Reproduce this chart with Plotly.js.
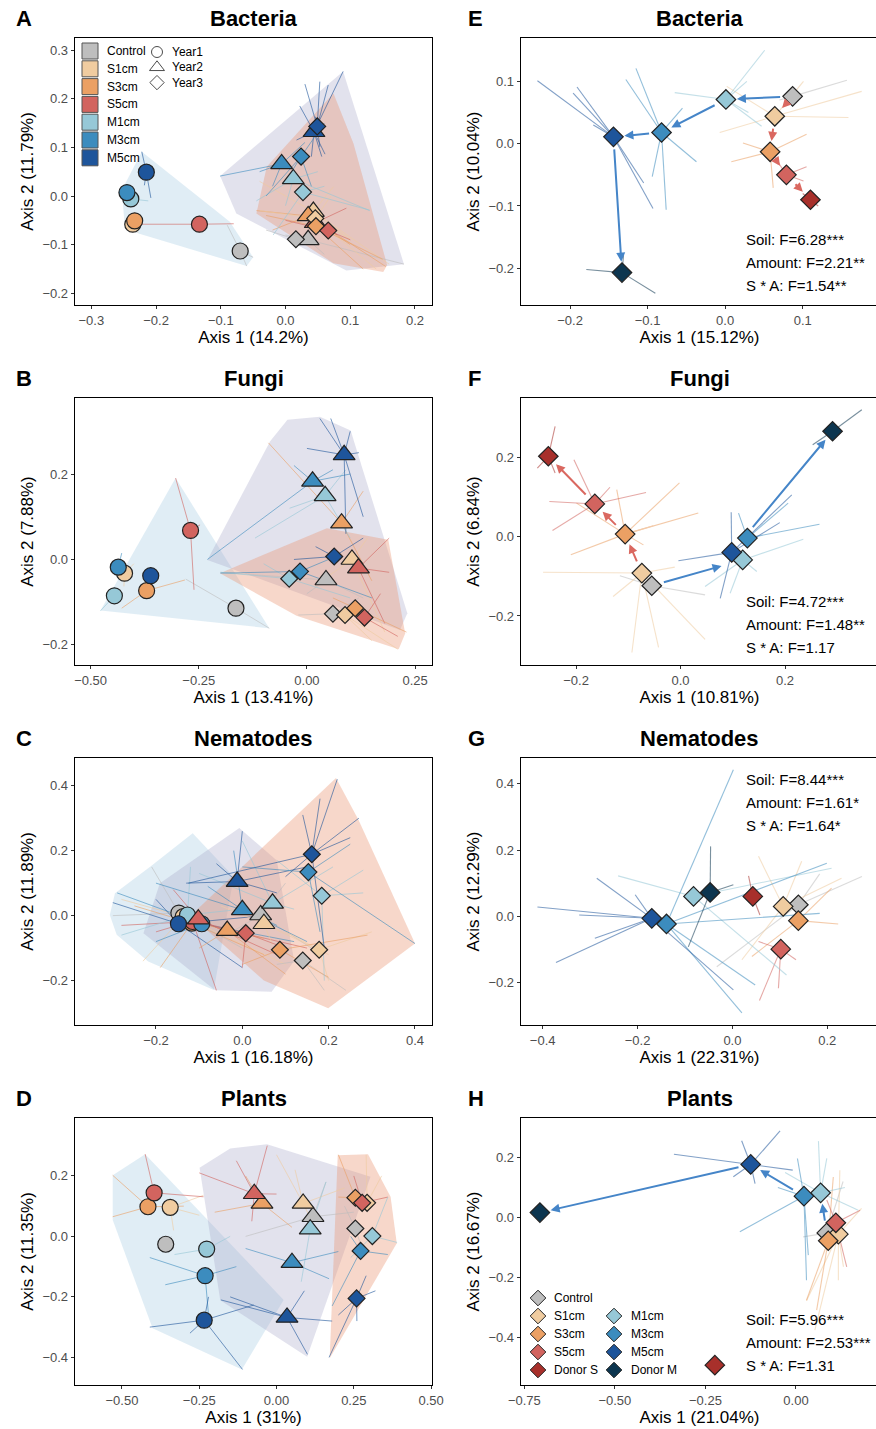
<!DOCTYPE html>
<html><head><meta charset="utf-8">
<script src="https://cdn.plot.ly/plotly-3.0.1.min.js"></script>
<style>html,body{margin:0;padding:0;overflow:hidden;background:#fff}#chart{width:880px;height:1429px}</style>
</head><body><div id="chart"></div>
<script>
// ---------------- categories ----------------
const groups = ['Control','S1cm','S3cm','S5cm','M1cm','M3cm','M5cm','Donor S','Donor M'];
const years = ['Year1','Year2','Year3'];

// ---------------- left panels: centroids (order: Year1 Control..M5cm, Year2 ..., Year3 ...) ----------------
const bacteriaL_x = [-0.070,-0.236,-0.233,-0.133,-0.239,-0.245,-0.215, 0.035,0.043,0.035,0.046,0.012,-0.006,0.044, 0.016,0.046,0.047,0.066,0.027,0.024,0.049];
const bacteriaL_y = [-0.113,-0.058,-0.051,-0.058,-0.006,0.007,0.049, -0.090,-0.032,-0.041,-0.055,0.035,0.066,0.132, -0.089,-0.046,-0.062,-0.071,0.008,0.081,0.143];
const bacteriaL_spokes = [
 [-0.090,-0.060,-0.060,-0.144,-0.050,-0.126],[-0.228,-0.075,-0.248,-0.066],[-0.240,-0.062,-0.222,-0.045],
 [-0.228,-0.058,-0.080,-0.057,-0.120,-0.061],[-0.212,-0.010,-0.250,-0.012],[-0.253,0.012,-0.232,-0.004],
 [-0.222,0.091,-0.208,-0.004,-0.218,0.022],
 [0.183,-0.140,0.000,-0.080,0.060,-0.120],[-0.040,0.030,0.074,0.019,0.160,-0.140,0.100,-0.090],
 [-0.045,-0.030,0.155,-0.145,0.100,-0.100,-0.020,-0.070],[0.094,-0.025,0.080,-0.080],
 [-0.045,-0.010,0.050,0.050,0.000,-0.020,0.130,-0.030],[-0.101,0.041,-0.040,0.050,0.030,0.110,-0.020,0.020],
 [0.089,0.256,0.022,0.185,0.056,0.081,0.040,0.081,0.017,0.115,0.061,0.086],
 [-0.030,-0.070,0.050,-0.100],[-0.040,-0.030,0.100,-0.090,0.070,0.000,0.140,-0.150],[0.150,-0.130,-0.030,-0.040,0.120,-0.150],
 [0.100,-0.090,0.000,-0.050],[0.130,-0.029,-0.019,-0.080,0.060,0.020],[0.060,0.150,0.000,0.030,0.040,0.020,-0.030,0.000],
 [0.066,0.228,0.053,0.235,0.046,0.163,0.053,0.101,0.030,0.230]];
const bacteriaL_hullX = [[-0.222,-0.253,-0.248,-0.227,-0.060,-0.050,-0.086],[-0.101,0.069,0.089,0.183,0.094,-0.076],[-0.045,-0.029,0.074,0.105,0.157,0.151,0.074]];
const bacteriaL_hullY = [[0.091,0.012,-0.066,-0.077,-0.144,-0.126,-0.053],[0.041,0.235,0.256,-0.140,-0.153,-0.036],[-0.036,0.060,0.211,0.108,-0.142,-0.156,-0.138]];

const fungiL_x = [-0.164,-0.4215,-0.3705,-0.269,-0.445,-0.436,-0.361, 0.044,0.104,0.080,0.119,0.042,0.013,0.086, 0.060,0.088,0.1115,0.133,-0.041,-0.016,0.063];
const fungiL_y = [-0.114,-0.032,-0.073,0.068,-0.085,-0.018,-0.038, -0.048,0.000,0.085,-0.020,0.149,0.183,0.245, -0.127,-0.130,-0.114,-0.136,-0.045,-0.028,0.007];
const fungiL_spokes = [
 [-0.280,-0.046,-0.087,-0.161],[-0.423,-0.063,-0.400,-0.010],[-0.282,-0.048,-0.428,-0.114],
 [-0.3035,0.1906,-0.261,-0.071,-0.247,0.081],[-0.477,-0.120],[-0.428,0.015],[-0.350,-0.030],
 [-0.200,-0.030,0.130,-0.090,0.000,-0.080],[0.140,0.050,0.020,-0.060,0.180,-0.170],[-0.089,0.273,0.130,0.160,0.150,-0.050],
 [0.190,0.050,0.190,-0.030,0.180,-0.150],[-0.040,0.120,0.090,0.210,0.100,0.050,-0.120,0.050],
 [-0.230,0.000,-0.030,0.220,0.060,0.210,0.100,0.200],
 [0.030,0.330,0.055,0.330,0.100,0.300,0.120,0.250,0.130,0.100,0.090,0.060,0.000,0.260],
 [-0.020,-0.130,0.120,-0.090],[0.210,-0.210,0.150,-0.190],[0.230,-0.170,0.060,-0.090],[0.210,-0.180,0.170,-0.080],
 [-0.100,-0.010,0.100,-0.090,-0.200,-0.030],[-0.200,-0.032,0.150,-0.090,0.050,0.000],[-0.030,0.000,0.130,0.050,0.020,0.030]];
const fungiL_hullX = [[-0.477,-0.3035,-0.087],[-0.230,-0.085,-0.045,0.030,0.101,0.232,0.215],[-0.201,0.046,0.188,0.227,0.212,-0.024]];
const fungiL_hullY = [[-0.1195,0.1906,-0.161],[-0.001,0.277,0.327,0.334,0.302,-0.126,-0.165],[-0.032,0.073,0.046,-0.173,-0.210,-0.132]];

const nemaL_x = [-0.147,-0.137,-0.117,-0.115,-0.127,-0.094,-0.148, 0.0425,0.050,-0.035,-0.102,0.070,0.000,-0.012, 0.140,0.178,0.087,0.008,0.184,0.153,0.161];
const nemaL_y = [0.008,-0.003,-0.023,-0.018,0.002,-0.025,-0.025, 0.002,-0.025,-0.046,-0.011,0.038,0.018,0.105, -0.138,-0.105,-0.105,-0.054,0.061,0.134,0.189];
const nemaL_spokes = [
 [-0.300,0.000,0.000,-0.100,-0.210,0.150],[-0.230,-0.140,0.100,-0.150,-0.280,0.050],[-0.190,-0.160,0.050,-0.120,-0.250,0.030],
 [-0.060,-0.230,0.150,-0.100,-0.280,-0.030],[-0.280,-0.060,0.000,0.020,-0.120,0.150],[-0.290,0.070,0.120,-0.080,-0.200,-0.080],
 [-0.300,0.040,0.000,-0.160,-0.200,0.050,0.050,0.000],
 [0.160,-0.100,-0.050,-0.070,0.100,0.100],[0.200,-0.120,0.070,-0.090,-0.050,0.030],[-0.100,-0.100,0.100,-0.180,0.050,-0.070,-0.160,0.000],
 [0.080,-0.120,-0.200,-0.050,-0.020,-0.060,-0.160,0.080],[0.000,0.230,0.210,0.150,0.120,0.020,-0.100,0.130],
 [-0.200,0.100,-0.080,0.090,0.080,-0.030,0.150,-0.080,-0.020,0.200],[-0.130,0.100,-0.060,0.160,0.150,0.150,0.000,0.260,0.080,0.070],
 [0.190,-0.230,0.240,-0.230,0.080,-0.150],[0.300,-0.050,0.200,-0.200,0.100,-0.050],[0.200,-0.190,0.000,-0.150,0.290,-0.060],
 [-0.100,-0.020,0.100,-0.100,0.000,-0.160],[0.280,0.140,0.280,0.070,0.190,-0.200,0.080,0.170],
 [0.400,-0.086,0.250,0.220,0.000,0.150,0.180,-0.050],
 [0.220,0.420,0.180,0.360,0.270,0.300,0.250,0.240,0.140,0.310,-0.125,0.100,0.100,0.120,0.190,-0.100]];
const nemaL_hullX = [[-0.295,-0.212,-0.115,-0.020,-0.066,-0.218,-0.291,-0.307],[-0.229,-0.191,-0.007,0.080,0.120,0.068,-0.063],[-0.120,0.217,0.269,0.400,0.199,0.050]];
const nemaL_hullY = [[0.069,0.152,0.254,0.120,-0.229,-0.141,-0.059,0.002],[-0.054,0.100,0.270,0.170,-0.140,-0.234,-0.230],[0.000,0.424,0.295,-0.086,-0.285,-0.200]];

const plantsL_x = [-0.3585,-0.344,-0.416,-0.396,-0.226,-0.231,-0.234, 0.118,0.086,-0.047,-0.072,0.109,0.050,0.034, 0.255,0.293,0.255,0.277,0.310,0.272,0.259];
const plantsL_y = [-0.026,0.096,0.098,0.144,-0.042,-0.130,-0.277, 0.065,0.109,0.109,0.141,0.024,-0.087,-0.268, 0.026,0.111,0.128,0.111,0.001,-0.048,-0.205];
const plantsL_spokes = [
 [-0.370,-0.040,-0.340,0.000],[-0.236,0.136,-0.333,0.020,-0.250,0.070],[-0.530,0.202,-0.530,0.065,-0.300,0.100],
 [-0.425,0.272,-0.236,0.131,-0.420,0.080],[-0.330,-0.060,-0.150,0.000],[-0.410,-0.070,-0.360,-0.160,-0.130,-0.100,-0.220,-0.260],
 [-0.410,-0.300,-0.110,-0.440,-0.074,-0.227,-0.280,-0.320,-0.220,-0.200],
 [0.160,0.180,0.250,0.080,-0.100,0.000],[0.000,0.270,0.060,0.220,0.220,0.160,0.110,0.060],[-0.200,0.080,-0.100,0.200,0.050,0.030],
 [-0.130,0.250,-0.030,0.300,-0.250,0.210,0.000,0.140,-0.080,0.050],[0.160,0.180,0.080,-0.150],[-0.100,-0.040,0.170,-0.140,0.200,-0.050],
 [-0.180,-0.210,0.100,-0.390,0.180,-0.280,0.090,-0.180,-0.150,-0.200],
 [0.220,0.100,0.280,-0.050],[0.290,0.270,0.340,0.200],[0.200,0.270,0.200,0.130],[0.360,0.130,0.250,0.200],
 [0.360,0.130,0.390,-0.020,0.240,-0.070],[0.180,-0.230,0.360,-0.060,0.240,0.000],[0.170,-0.400,0.200,-0.260,0.290,-0.130,0.320,-0.180,0.260,-0.280]];
const plantsL_hullX = [[-0.530,-0.425,0.023,-0.112,-0.401,-0.530],[-0.249,-0.150,-0.031,0.304,0.099,-0.182],[0.198,0.296,0.369,0.389,0.172]];
const plantsL_hullY = [[0.202,0.272,-0.210,-0.440,-0.304,0.054],[0.227,0.291,0.305,0.197,-0.398,-0.211],[0.268,0.272,0.131,-0.023,-0.403]];

// ---------------- right panels: centroids (order: Control,S1,S3,S5,M1,M3,M5,Donor S,Donor M) ----------------
const bacteriaR_x = [0.087,0.064,0.058,0.079,0.001,-0.082,-0.144,0.110,-0.133];
const bacteriaR_y = [0.076,0.044,-0.013,-0.050,0.071,0.018,0.011,-0.090,-0.207];
const bacteriaR_spokes = [
 [0.157,0.102,0.070,0.070],[0.176,0.084,0.159,0.042,-0.007,0.018,0.002,0.092,0.101,0.100],
 [0.023,0.001,0.105,0.015,0.008,-0.029,0.062,-0.071],[0.054,-0.003,0.105,-0.037,0.101,-0.060],
 [0.051,0.150,0.028,0.100,-0.065,0.082,0.047,0.028,0.030,0.050],
 [-0.115,0.121,-0.128,0.103,-0.076,-0.106,-0.094,-0.053,-0.037,-0.029,-0.055,0.057],
 [-0.242,0.101,-0.191,0.091,-0.196,0.081,-0.093,-0.104,-0.105,-0.063,-0.170,0.030],
 [0.100,-0.080,0.120,-0.100],[-0.179,-0.202,-0.090,-0.240,-0.131,-0.179]];
const bacteriaR_arrowsBlue = [[0,4],[4,5],[5,6],[6,8]];
const bacteriaR_arrowsRed = [[0,1],[1,2],[2,3],[3,7]];
const bacteriaR_stats = ['Soil: F=6.28***','Amount: F=2.21**','S * A: F=1.54**'];

const fungiR_x = [-0.055,-0.074,-0.106,-0.164,0.119,0.128,0.098,-0.253,0.291];
const fungiR_y = [-0.124,-0.092,0.006,0.082,-0.059,-0.004,-0.040,0.202,0.265];
const fungiR_spokes = [
 [0.047,-0.147,-0.116,-0.099],[-0.263,-0.090,-0.093,-0.292,-0.042,-0.279,0.047,-0.259,-0.129,-0.151,-0.011,-0.077],
 [-0.002,0.135,0.034,0.059,-0.210,-0.046,-0.122,0.118,-0.052,0.027,-0.071,-0.021,-0.199,0.084],
 [-0.204,0.193,-0.251,0.088,-0.245,0.015,-0.066,0.111,-0.135,0.124],
 [0.047,-0.126,0.235,-0.007,0.095,-0.143,0.146,-0.088],[0.266,0.031,0.111,0.059,0.206,0.084],
 [-0.004,-0.061,0.076,-0.156,0.097,0.061,0.213,0.105,0.190,0.035],
 [-0.240,0.277,-0.274,0.172,-0.240,0.160],[0.347,0.319,0.253,0.231]];
const fungiR_arrowsBlue = [[0,4],[6,8]];
const fungiR_arrowsRed = [[1,2],[2,3],[3,7]];
const fungiR_stats = ['Soil: F=4.72***','Amount: F=1.48**','S * A: F=1.17'];

const nemaR_x = [0.139,0.107,0.139,0.102,-0.082,-0.139,-0.170,0.043,-0.047];
const nemaR_y = [0.035,0.030,-0.013,-0.099,0.060,-0.023,-0.006,0.060,0.072];
const nemaR_spokes = [
 [0.273,0.120,0.184,0.128,-0.033,-0.152],[0.055,0.181,0.230,0.115,0.020,-0.131,0.146,0.166],
 [0.223,-0.023,0.209,0.085,0.041,-0.121],[0.057,-0.254,0.097,-0.217,0.134,-0.131,0.055,-0.076],
 [-0.241,0.122,0.209,0.145,0.114,-0.177],[0.020,-0.291,0.048,-0.207,0.199,0.160,0.184,0.009,0.002,0.442],
 [-0.411,0.028,-0.286,0.115,-0.323,0.004,-0.372,-0.139,-0.290,-0.066,0.002,-0.222,-0.205,0.065],
 [0.034,0.122,0.058,0.004],[-0.046,0.211,-0.093,-0.092,0.002,0.095]];
const nemaR_arrowsBlue = [];
const nemaR_arrowsRed = [];
const nemaR_stats = ['Soil: F=8.44***','Amount: F=1.61*','S * A: F=1.64*'];

const plantsR_x = [0.085,0.117,0.089,0.110,0.068,0.022,-0.125,-0.224,-0.707];
const plantsR_y = [-0.052,-0.056,-0.078,-0.018,0.082,0.071,0.177,-0.494,0.016];
const plantsR_spokes = [
 [0.020,-0.065,0.130,0.120],[0.029,-0.279,0.052,-0.377,0.117,-0.210,0.131,-0.165,0.121,0.158,0.181,0.030],
 [0.029,-0.277,0.057,-0.310,0.103,0.135],[0.177,0.024,0.140,-0.165,0.085,0.058],
 [0.062,0.255,0.135,0.100,0.172,0.024,0.085,0.197,-0.030,0.150],
 [-0.155,-0.048,0.029,-0.210,0.034,-0.126,0.004,0.197,-0.050,0.100],
 [-0.337,0.211,-0.009,0.158,-0.044,0.289,-0.150,0.256,-0.173,0.136,-0.113,0.113],
 [-0.215,-0.480],[-0.698,0.035]];
const plantsR_arrowsBlue = [[0,4],[5,6],[6,8]];
const plantsR_arrowsRed = [];
const plantsR_stats = ['Soil: F=5.96***','Amount: F=2.53***','S * A: F=1.31'];

// ---------------- styles & layout geometry ----------------
const W = 880, H = 1429;
const FONT = '"Liberation Sans", Arial, Helvetica, sans-serif';
const groupColors = ['#BEBEBE','#F0CCA0','#EBA064','#D2645F','#96C8D7','#3C8CBE','#1E559B','#A8302B','#0D3650'];
const hullFills = ['rgba(160,200,225,0.32)','rgba(165,165,200,0.32)','rgba(235,150,115,0.38)'];
const yearSymbols = ['circle','triangle-up','diamond'];
const yearSizes = [16,19,13];
const blueArrow = '#4585C8', redArrow = '#DA6860';
const rowTop = [38,398,758,1118], rowBot = [305,665,1025,1385];
const colL = [75,521], colR = [432,878];
const arrowStandoff = {'F:0-4':[11,22], 'F:6-8':[31,11]};

const panels = [
 {L:'A',t:'Bacteria',xt:'Axis 1 (14.2%)', yt:'Axis 2 (11.79%)',xr:[-0.3252,0.2263],yr:[-0.224,0.3247],xd:0.1,yd:0.1,xf:'.1f',yf:'.1f',col:0,row:0,cx:bacteriaL_x,cy:bacteriaL_y,sp:bacteriaL_spokes,hx:bacteriaL_hullX,hy:bacteriaL_hullY},
 {L:'B',t:'Fungi',xt:'Axis 1 (13.41%)',yt:'Axis 2 (7.88%)',xr:[-0.536,0.289],yr:[-0.247,0.378],xd:0.25,yd:0.2,xf:'.2f',yf:'.1f',col:0,row:1,cx:fungiL_x,cy:fungiL_y,sp:fungiL_spokes,hx:fungiL_hullX,hy:fungiL_hullY},
 {L:'C',t:'Nematodes',xt:'Axis 1 (16.18%)',yt:'Axis 2 (11.89%)',xr:[-0.3876,0.4394],yr:[-0.3367,0.4853],xd:0.2,yd:0.2,xf:'.1f',yf:'.1f',col:0,row:2,cx:nemaL_x,cy:nemaL_y,sp:nemaL_spokes,hx:nemaL_hullX,hy:nemaL_hullY},
 {L:'D',t:'Plants',xt:'Axis 1 (31%)',yt:'Axis 2 (11.35%)',xr:[-0.652,0.503],yr:[-0.4914,0.3915],xd:0.25,yd:0.2,xf:'.2f',yf:'.1f',col:0,row:3,cx:plantsL_x,cy:plantsL_y,sp:plantsL_spokes,hx:plantsL_hullX,hy:plantsL_hullY},
 {L:'E',t:'Bacteria',xt:'Axis 1 (15.12%)',yt:'Axis 2 (10.04%)',xr:[-0.2632,0.1971],yr:[-0.259,0.1697],xd:0.1,yd:0.1,xf:'.1f',yf:'.1f',col:1,row:0,cx:bacteriaR_x,cy:bacteriaR_y,sp:bacteriaR_spokes,ab:bacteriaR_arrowsBlue,ar:bacteriaR_arrowsRed,st:bacteriaR_stats,sy:239},
 {L:'F',t:'Fungi',xt:'Axis 1 (10.81%)',yt:'Axis 2 (6.84%)',xr:[-0.3053,0.378],yr:[-0.3235,0.3487],xd:0.2,yd:0.2,xf:'.1f',yf:'.1f',col:1,row:1,cx:fungiR_x,cy:fungiR_y,sp:fungiR_spokes,ab:fungiR_arrowsBlue,ar:fungiR_arrowsRed,st:fungiR_stats,sy:601},
 {L:'G',t:'Nematodes',xt:'Axis 1 (22.31%)',yt:'Axis 2 (12.29%)',xr:[-0.4457,0.3069],yr:[-0.3278,0.4776],xd:0.2,yd:0.2,xf:'.1f',yf:'.1f',col:1,row:2,cx:nemaR_x,cy:nemaR_y,sp:nemaR_spokes,ab:nemaR_arrowsBlue,ar:nemaR_arrowsRed,st:nemaR_stats,sy:779},
 {L:'H',t:'Plants',xt:'Axis 1 (21.04%)',yt:'Axis 2 (16.67%)',xr:[-0.7592,0.2264],yr:[-0.5603,0.3323],xd:0.25,yd:0.2,xf:'.2f',yf:'.1f',col:1,row:3,cx:plantsR_x,cy:plantsR_y,sp:plantsR_spokes,ab:plantsR_arrowsBlue,ar:plantsR_arrowsRed,st:plantsR_stats,sy:1319}
];

const traces = [], annotations = [];
const layout = {
  width: W, height: H, margin: {l:0,r:0,t:0,b:0}, showlegend: false,
  paper_bgcolor: '#ffffff', plot_bgcolor: 'rgba(0,0,0,0)', font: {family: FONT, color: '#000'},
  annotations: annotations
};

function spokeXY(cx, cy, ends) {
  const xs = [], ys = [];
  for (let k = 0; k < ends.length; k += 2) { xs.push(cx, ends[k], null); ys.push(cy, ends[k+1], null); }
  return [xs, ys];
}
const PX = 'x9', PY = 'y9';
function text(x, y, t, size, opts) {
  annotations.push(Object.assign({xref:PX, yref:PY, x:x, y:y, text:t, showarrow:false,
    font:{family:FONT, size:size, color:'#000'}, xanchor:'center', yanchor:'middle'}, opts||{}));
}

panels.forEach((p, i) => {
  const n = i + 1, xa = 'x' + (n === 1 ? '' : n), ya = 'y' + (n === 1 ? '' : n);
  const x0 = colL[p.col], x1 = colR[p.col], top = rowTop[p.row], bot = rowBot[p.row];
  const axBase = {showline:true, mirror:true, linecolor:'#000', linewidth:1.3, ticks:'outside', ticklen:3,
    tickwidth:1, tickcolor:'#333', tickfont:{family:FONT, size:13, color:'#4d4d4d'}, showgrid:false,
    zeroline:false, tick0:0, fixedrange:true};
  layout['xaxis' + (n === 1 ? '' : n)] = Object.assign({}, axBase, {domain:[x0/W, x1/W], range:p.xr, dtick:p.xd,
    tickformat:p.xf, anchor:ya, title:{text:p.xt, font:{family:FONT, size:17, color:'#000'}, standoff:4}});
  layout['yaxis' + (n === 1 ? '' : n)] = Object.assign({}, axBase, {domain:[1 - bot/H, 1 - top/H], range:p.yr, dtick:p.yd,
    tickformat:p.yf, anchor:xa, title:{text:p.yt, font:{family:FONT, size:17, color:'#000'}, standoff:4}});

  // titles and letters
  text((x0 + x1) / 2, top - 20, '<b>' + p.t + '</b>', 22);
  text(p.col === 0 ? 14 : 466, top - 20, '<b>' + p.L + '</b>', 22, {xanchor:'left'});

  if (p.col === 0) {
    for (let yr = 0; yr < 3; yr++) {
      traces.push({type:'scatter', mode:'lines', x:p.hx[yr].concat([p.hx[yr][0]]), y:p.hy[yr].concat([p.hy[yr][0]]),
        fill:'toself', fillcolor:hullFills[yr], line:{width:0, color:'rgba(0,0,0,0)'}, hoverinfo:'skip', xaxis:xa, yaxis:ya});
    }
    p.cx.forEach((cx, k) => {
      const s = spokeXY(cx, p.cy[k], p.sp[k]);
      traces.push({type:'scatter', mode:'lines', x:s[0], y:s[1], line:{color:groupColors[k % 7], width:1},
        opacity:0.6, hoverinfo:'skip', xaxis:xa, yaxis:ya});
    });
    for (let yr = 0; yr < 3; yr++) {
      traces.push({type:'scatter', mode:'markers', x:p.cx.slice(yr*7, yr*7+7), y:p.cy.slice(yr*7, yr*7+7),
        text:groups.slice(0,7).map(g => g + ' ' + years[yr]),
        marker:{symbol:yearSymbols[yr], size:yearSizes[yr], color:groupColors.slice(0,7), line:{color:'#222', width:1.2}},
        xaxis:xa, yaxis:ya});
    }
  } else {
    p.cx.forEach((cx, k) => {
      const s = spokeXY(cx, p.cy[k], p.sp[k]);
      traces.push({type:'scatter', mode:'lines', x:s[0], y:s[1], line:{color:groupColors[k], width:1.1},
        opacity:0.55, hoverinfo:'skip', xaxis:xa, yaxis:ya});
    });
    traces.push({type:'scatter', mode:'markers', x:p.cx, y:p.cy, text:groups,
      marker:{symbol:'diamond', size:15, color:groupColors, line:{color:'#222', width:1.2}}, xaxis:xa, yaxis:ya});
    [[p.ab, blueArrow], [p.ar, redArrow]].forEach(([list, col]) => {
      list.forEach(([a, b]) => {
        const so = arrowStandoff[p.L + ':' + a + '-' + b] || [11, 11];
        annotations.push({xref:xa, yref:ya, axref:xa, ayref:ya, x:p.cx[b], y:p.cy[b], ax:p.cx[a], ay:p.cy[a],
          text:'', showarrow:true, arrowhead:2, arrowsize:0.9, arrowwidth:2, arrowcolor:col,
          startstandoff:so[0], standoff:so[1]});
      });
    });
    p.st.forEach((s, j) => text(744, p.sy + j * 23, s, 15, {xanchor:'left'}));
  }
});

// overlay pixel axes for legend keys
layout.xaxis9 = {domain:[0,1], range:[0,W], visible:false, fixedrange:true, anchor:'y9'};
layout.yaxis9 = {domain:[0,1], range:[H,0], visible:false, fixedrange:true, anchor:'x9'};

const legA = groups.slice(0,7);
traces.push({type:'scatter', mode:'markers', x:legA.map(() => 90), y:legA.map((g, i) => 51 + i * 17.8),
  marker:{symbol:'square', size:16, color:groupColors.slice(0,7), line:{color:'#555', width:1}},
  hoverinfo:'skip', xaxis:PX, yaxis:PY});
legA.forEach((g, i) => text(105, 51 + i * 17.8, g, 12, {xanchor:'left'}));
traces.push({type:'scatter', mode:'markers', x:years.map(() => 157), y:years.map((y, j) => 52 + j * 15.3),
  marker:{symbol:yearSymbols, size:[11,13,11], color:'rgba(255,255,255,0)', line:{color:'#000', width:1}},
  hoverinfo:'skip', xaxis:PX, yaxis:PY});
years.forEach((y, j) => text(170, 52 + j * 15.3, y, 12, {xanchor:'left'}));
const legH1 = [0,1,2,3,7], legH2 = [4,5,6,8];
[[legH1, 538, 552, 1298], [legH2, 614, 629, 1316]].forEach(([idx, gx, tx, y0]) => {
  traces.push({type:'scatter', mode:'markers', x:idx.map(() => gx), y:idx.map((g, i) => y0 + i * 18),
    marker:{symbol:'diamond', size:12, color:idx.map(g => groupColors[g]), line:{color:'#222', width:1}},
    hoverinfo:'skip', xaxis:PX, yaxis:PY});
  idx.forEach((g, i) => text(tx, y0 + i * 18, groups[g], 12, {xanchor:'left'}));
});

Plotly.newPlot('chart', traces, layout, {staticPlot:true, displayModeBar:false});
</script>
</body></html>
